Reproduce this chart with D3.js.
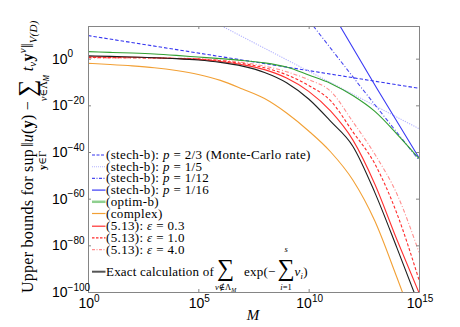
<!DOCTYPE html>
<html><head><meta charset="utf-8">
<script src="https://cdn.jsdelivr.net/npm/d3@7"></script>
<style>body{margin:0;background:#fff}svg{display:block}</style>
</head><body><svg id="c" width="460" height="327"></svg>
<script>
// ---- data: log10(M) grid and log10(upper bound) ----
const gridLogM   = [0,1,2,3,4,5,6,7,8,9,10,11,12,13,14,15];
const exactLog   = [1.2,1.0,0.7,0.4,0.0,-0.6,-1.6,-3.2,-5.9,-10.3,-17.3,-26.9,-37.5,-57.4,-81.1,-105.6];
const eps03Log   = [0.8,0.7,0.6,0.4,0.1,-0.3,-1.2,-2.6,-4.7,-8.3,-14.0,-22.5,-34.8,-53.8,-77.6,-100.3];
const eps10Log   = [0.5,0.45,0.4,0.3,0.1,-0.2,-0.9,-2.1,-3.9,-6.9,-11.5,-18.1,-31.3,-45.1,-66.4,-94.8];
const eps40Log   = [0.3,0.3,0.3,0.25,0.2,0.0,-0.6,-1.6,-3.2,-5.6,-9.0,-14.0,-27.0,-41.0,-58.0,-83.0];
const complexLog = [-2.0,-2.5,-3.1,-3.9,-5.1,-6.8,-9.3,-13.0,-17.1,-23.3,-31.0,-40.0,-52.0,-69.6,-93.8,-119.0];
const optimLog   = [3.0,2.7,2.4,2.0,1.4,0.7,0.0,-0.8,-1.8,-3.6,-7.0,-10.6,-15.8,-22.6,-32.3,-42.8];
const stech23LogM  = [0, 9.6, 15];        const stech23Log  = [9.9, -4.5, -12.7];
const stech15LogM  = [6.06, 9.6, 15];     const stech15Log  = [14, -3.4, -30.0];
const stech112LogM = [10.21, 12.40, 15];  const stech112Log = [14, -12.6, -43.5];
const stech116LogM = [11.42, 13.08, 15];  const stech116Log = [14, -12.6, -42.5];
const xTickExps = [0, 5, 10, 15];
const yTickExps = [0, -20, -40, -60, -80, -100];

// ---- layout ----
const SERIF = "'Liberation Serif','DejaVu Serif',serif";
const SANS = "'Liberation Sans',Arial,sans-serif";
const L = 88, R = 419, T = 26, B = 292;
const svg = d3.select('#c');
const x = d3.scaleLog().domain([1, 1e15]).range([L, R]);
const y = d3.scaleLog().domain([1e-100, 1e14]).range([B, T]);
const pw = e => Math.pow(10, e);
const pts = (ms, vs) => ms.map((m, i) => [pw(m), pw(vs[i])]);

svg.append('defs').append('clipPath').attr('id', 'clip')
  .append('rect').attr('x', L).attr('y', T).attr('width', R - L).attr('height', B - T);

const series = [
  {p: pts(stech23LogM, stech23Log), c: '#3535f0', d: '3.5,2', lin: true},
  {p: pts(stech15LogM, stech15Log), c: '#b4b4ff', d: '1.2,1.2', lin: true},
  {p: pts(stech112LogM, stech112Log), c: '#4a4af0', d: '4,2,1,2', lin: true},
  {p: pts(stech116LogM, stech116Log), c: '#3a3af5', d: null, lin: true},
  {p: pts(gridLogM, optimLog), c: '#33a033', d: null},
  {p: pts(gridLogM, complexLog), c: '#f2a035', d: null},
  {p: pts(gridLogM, eps40Log), c: '#ff8f8f', d: '4,2,1,2'},
  {p: pts(gridLogM, eps10Log), c: '#ff2a2a', d: '3,2'},
  {p: pts(gridLogM, eps03Log), c: '#ff3030', d: null},
  {p: pts(gridLogM, exactLog), c: '#1e1e1e', d: null}
];
const gPlot = svg.append('g').attr('clip-path', 'url(#clip)');
series.forEach(s => {
  const line = d3.line().x(d => x(d[0])).y(d => y(d[1]))
    .curve(s.lin ? d3.curveLinear : d3.curveMonotoneX);
  gPlot.append('path').attr('d', line(s.p)).attr('fill', 'none')
    .attr('stroke', s.c).attr('stroke-width', 1.1)
    .attr('stroke-dasharray', s.d);
});

// ---- axes (frame + inward ticks) ----
const xT = xTickExps.map(pw), yT = yTickExps.map(pw);
const axStyle = g => { g.selectAll('path,line').attr('stroke', '#858585'); g.selectAll('text').remove(); };
svg.append('g').attr('transform', `translate(0,${B})`).call(d3.axisBottom(x).tickValues(xT).tickSizeInner(-3).tickSizeOuter(0)).call(axStyle);
svg.append('g').attr('transform', `translate(0,${T})`).call(d3.axisTop(x).tickValues(xT).tickSizeInner(-3).tickSizeOuter(0)).call(axStyle);
svg.append('g').attr('transform', `translate(${L},0)`).call(d3.axisLeft(y).tickValues(yT).tickSizeInner(-3).tickSizeOuter(0)).call(axStyle);
svg.append('g').attr('transform', `translate(${R},0)`).call(d3.axisRight(y).tickValues(yT).tickSizeInner(-3).tickSizeOuter(0)).call(axStyle);

// tick labels
yTickExps.forEach(e => {
  const t = svg.append('text').attr('x', 52).attr('y', y(pw(e)) + 5)
    .attr('font-family', SANS).attr('font-size', 14).attr('fill', '#000');
  t.append('tspan').text('10');
  t.append('tspan').attr('dy', -6.5).attr('font-size', 10).text(String(e).replace('-', '\u2212'));
});
xTickExps.forEach(e => {
  const t = svg.append('text').attr('x', x(pw(e)) + 1).attr('y', 308).attr('text-anchor', 'middle')
    .attr('font-family', SANS).attr('font-size', 14).attr('fill', '#000');
  t.append('tspan').text('10');
  t.append('tspan').attr('dy', -6.5).attr('font-size', 10).text(String(e));
});
svg.append('text').attr('x', 253).attr('y', 320).attr('text-anchor', 'middle')
  .attr('font-family', SERIF).attr('font-style', 'italic').attr('font-size', 15).text('M');

// ---- helper for sequential math pieces ----
function writer(g, x0, base, ls) {
  let cx = x0;
  const w = {
    put(str, o = {}) {
      const t = g.append('text').attr('x', cx).attr('y', base + (o.dy || 0))
        .attr('font-family', SERIF).attr('font-size', o.size || 16)
        .attr('letter-spacing', o.ls != null ? o.ls : (ls || 0))
        .attr('font-style', o.it ? 'italic' : 'normal').attr('font-weight', o.bold ? 'bold' : 'normal')
        .text(str);
      const wd = t.node().getComputedTextLength();
      const r = {start: cx, w: wd};
      cx += wd + (o.gap || 0);
      return r;
    },
    under(r, parts, dy, size) {
      const t = g.append('text').attr('x', r.start + r.w / 2).attr('y', base + dy)
        .attr('text-anchor', 'middle').attr('font-family', SERIF).attr('font-size', size);
      parts.forEach(p => t.append('tspan').attr('font-style', p.it ? 'italic' : 'normal')
        .attr('font-weight', p.bold ? 'bold' : 'normal')
        .attr('font-size', p.size || size).attr('dy', p.dy || 0).text(p.s));
    },
    skip(d) { cx += d; }
  };
  return w;
}

// ---- y axis label (rotated) ----
const gy = svg.append('g').attr('transform', 'translate(33,293) rotate(-90)');
const yw = writer(gy, 0, 0, 0.25);
yw.put('Upper bounds for\u00a0');
const sup = yw.put('sup');
yw.under(sup, [{s: 'y', bold: true}, {s: '\u2208\u0393'}], 13, 10.5);
yw.skip(2);
yw.put('\u2016');
yw.put('u', {it: true});
yw.put('(');
yw.put('y', {bold: true});
yw.put(')\u00a0\u2212\u00a0');
const sig = yw.put('\u2211', {size: 24, dy: 2});
yw.under(sig, [{s: '\u03bd', it: true}, {s: '\u2208\u039b'}, {s: 'M', it: true, size: 7.5, dy: 2}], 14, 10.5);
yw.skip(8);
yw.put('t', {it: true});
yw.put('\u03bd', {it: true, size: 11, dy: 3});
yw.put('y', {bold: true});
yw.put('\u03bd', {it: true, size: 11, dy: -7});
yw.put('\u2016');
yw.put('V(D)', {it: true, size: 11, dy: 4});

// ---- legend ----
const legend = [
  {c: '#3535f0', d: '3,1.5', w: 1.1, parts: [{s: '(stech-b):\u00a0'}, {s: 'p', it: true}, {s: '\u00a0=\u00a02/3 (Monte-Carlo rate)'}]},
  {c: '#b4b4ff', d: '1,1', w: 1.1, parts: [{s: '(stech-b):\u00a0'}, {s: 'p', it: true}, {s: '\u00a0=\u00a01/5'}]},
  {c: '#4a4af0', d: '3,1.5,1,1.5', w: 1.1, parts: [{s: '(stech-b):\u00a0'}, {s: 'p', it: true}, {s: '\u00a0=\u00a01/12'}]},
  {c: '#3a3af5', d: null, w: 1.2, parts: [{s: '(stech-b):\u00a0'}, {s: 'p', it: true}, {s: '\u00a0=\u00a01/16'}]},
  {c: '#8fd08f', d: null, w: 2.5, parts: [{s: '(optim-b)'}]},
  {c: '#f2a035', d: null, w: 1.2, parts: [{s: '(complex)'}]},
  {c: '#ff3030', d: null, w: 1.2, parts: [{s: '(5.13):\u00a0'}, {s: '\u03b5', it: true}, {s: '\u00a0=\u00a00.3'}]},
  {c: '#ff2a2a', d: '2.5,1.5', w: 1.1, parts: [{s: '(5.13):\u00a0'}, {s: '\u03b5', it: true}, {s: '\u00a0=\u00a01.0'}]},
  {c: '#ff8f8f', d: '3,1.5,1,1.5', w: 1.1, parts: [{s: '(5.13):\u00a0'}, {s: '\u03b5', it: true}, {s: '\u00a0=\u00a04.0'}]}
];
const rowY = [155, 166.7, 178.4, 190.1, 201.8, 213.5, 226.2, 237.9, 249.6];
const gl = svg.append('g');
legend.forEach((e, i) => {
  gl.append('line').attr('x1', 92).attr('x2', 105.5).attr('y1', rowY[i]).attr('y2', rowY[i])
    .attr('stroke', e.c).attr('stroke-width', e.w).attr('stroke-dasharray', e.d);
  const t = gl.append('text').attr('x', 106).attr('y', rowY[i] + 4)
    .attr('font-family', SERIF).attr('font-size', 13).attr('letter-spacing', 0.35);
  e.parts.forEach(p => t.append('tspan').attr('font-style', p.it ? 'italic' : 'normal').text(p.s));
});
// exact calculation entry
gl.append('line').attr('x1', 92).attr('x2', 105.5).attr('y1', 271.7).attr('y2', 271.7)
  .attr('stroke', '#555').attr('stroke-width', 2);
const lw = writer(gl, 106, 275.5, 0.2);
lw.put('Exact calculation of', {size: 13, gap: 3});
const s1 = lw.put('\u2211', {size: 24, dy: 0, ls: 0});
lw.under(s1, [{s: '\u03bd', it: true}, {s: '\u2209\u039b'}, {s: 'M', it: true, size: 6, dy: 1.5}], 14.5, 8.5);
lw.skip(10);
lw.put('exp(\u2212', {size: 13, gap: 2});
const s2 = lw.put('\u2211', {size: 24, dy: 0, ls: 0});
lw.under(s2, [{s: 'i', it: true}, {s: '=1'}], 14.5, 8.5);
lw.under(s2, [{s: 's', it: true}], -23.5, 8.5);
lw.put('\u03bd', {size: 13, it: true});
lw.put('i', {size: 8.5, it: true, dy: 3});
lw.put(')', {size: 13});
</script></body></html>
